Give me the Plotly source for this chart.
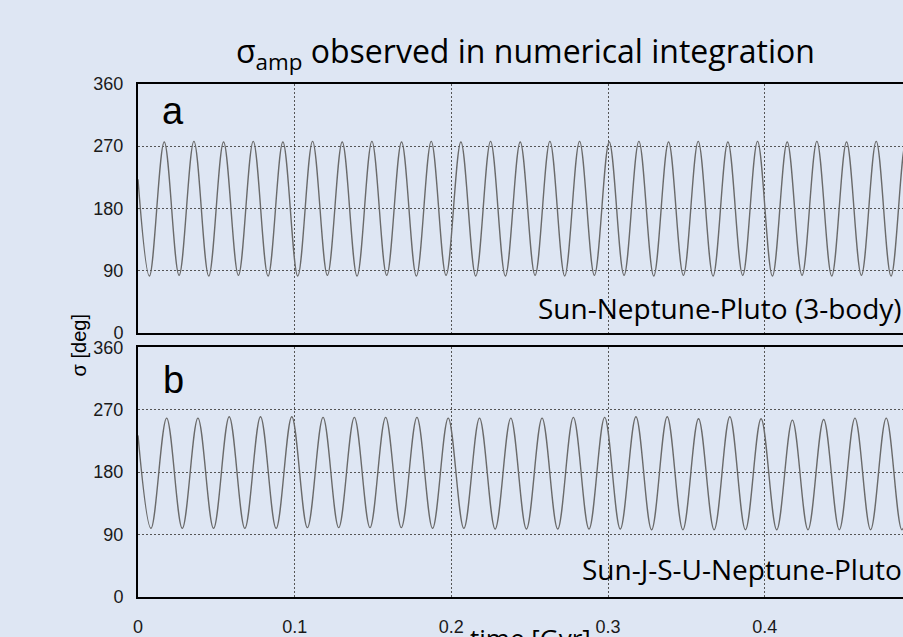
import plotly.graph_objects as go

# ---------------- data ----------------
# Panel a: Sun-Neptune-Pluto (3-body)
start_a = (0.0, 222)
trough_t_a = [0.00728, 0.02622, 0.04515, 0.06409, 0.08302, 0.10196, 0.12089, 0.13983, 0.15876,
              0.17770, 0.19663, 0.21557, 0.23450, 0.25344, 0.27237, 0.29131, 0.31024, 0.32918,
              0.34811, 0.36705, 0.38598, 0.40492, 0.42385, 0.44279, 0.46172, 0.48066, 0.49959]
trough_a = [82, 83, 82, 83, 82, 82, 83, 82, 83, 82, 83, 82, 82, 83, 82, 83, 83, 82, 83, 82,
            83, 82, 83, 82, 83, 82, 83]
peak_t_a = [0.01675, 0.03569, 0.05462, 0.07356, 0.09249, 0.11143, 0.13036, 0.14930, 0.16823,
            0.18717, 0.20610, 0.22504, 0.24397, 0.26291, 0.28184, 0.30078, 0.31971, 0.33865,
            0.35758, 0.37652, 0.39545, 0.41439, 0.43332, 0.45226, 0.47119, 0.49013]
peak_a = [276, 277, 276, 277, 276, 277, 276, 277, 276, 277, 276, 277, 276, 277, 277, 276,
          277, 276, 277, 276, 277, 276, 277, 276, 277, 276]

# Panel b: Sun-J-S-U-Neptune-Pluto
start_b = (0.0, 233)
trough_t_b = [0.00829, 0.02826, 0.04823, 0.06820, 0.08817, 0.10814, 0.12811, 0.14808, 0.16805,
              0.18802, 0.20799, 0.22796, 0.24793, 0.26790, 0.28787, 0.30784, 0.32781, 0.34778,
              0.36775, 0.38772, 0.40769, 0.42766, 0.44763, 0.46760, 0.48757]
trough_b = [99, 99, 99, 99, 99, 100, 100, 100, 100, 99, 99, 98, 98, 98, 98, 98, 97, 97, 97,
            97, 97, 97, 97, 97, 97]
peak_t_b = [0.01828, 0.03825, 0.05822, 0.07819, 0.09816, 0.11813, 0.13810, 0.15807, 0.17804,
            0.19801, 0.21798, 0.23795, 0.25792, 0.27789, 0.29786, 0.31783, 0.33780, 0.35777,
            0.37774, 0.39771, 0.41768, 0.43765, 0.45762, 0.47759, 0.49756]
peak_b = [258, 258, 260, 260, 260, 259, 259, 259, 259, 258, 258, 258, 258, 259, 259, 260,
          260, 257, 260, 257, 255, 256, 258, 258, 258]

y_ticks = [0, 90, 180, 270, 360]
x_ticks = [0, 0.1, 0.2, 0.3, 0.4]
x_tick_text = ["0", "0.1", "0.2", "0.3", "0.4"]


def merge(start, tt, tv, pt, pv):
    pts = [start] + list(zip(tt, tv)) + list(zip(pt, pv))
    pts.sort(key=lambda p: p[0])
    return [p[0] for p in pts], [p[1] for p in pts]


ta, sa = merge(start_a, trough_t_a, trough_a, peak_t_a, peak_a)
tb, sb = merge(start_b, trough_t_b, trough_b, peak_t_b, peak_b)

# ---------------- layout geometry ----------------
W, H = 903, 637
ML, MR, MT, MB = 138, 0, 84, 29
PW, PH = W - ML - MR, H - MT - MB


def px(x):
    return (x - ML) / PW


def py(y):
    return (H - MB - y) / PH


BG = "#DEE6F3"
LINE = "#6a6a6a"
TICKFONT = dict(family="Liberation Sans, Arial, sans-serif", size=18, color="#1a1a1a")
TXT = "Open Sans, sans-serif"

fig = go.Figure()
fig.add_trace(go.Scatter(x=ta, y=sa, mode="lines", xaxis="x2", yaxis="y2",
                         line=dict(color=LINE, width=1.4, shape="spline", smoothing=1.0),
                         showlegend=False, hoverinfo="skip"))
fig.add_trace(go.Scatter(x=tb, y=sb, mode="lines", xaxis="x", yaxis="y",
                         line=dict(color=LINE, width=1.4, shape="spline", smoothing=1.0),
                         showlegend=False, hoverinfo="skip"))

xr = [0, PW / 1566.7]
common_x = dict(range=xr, showline=True, linecolor="black", linewidth=2, mirror=True,
                showgrid=True, gridcolor="#555555", griddash="2px,2px", gridwidth=1,
                zeroline=False, tickvals=x_ticks, ticktext=x_tick_text, ticks="",
                tickfont=TICKFONT)
common_y = dict(range=[0, 360], showline=True, linecolor="black", linewidth=2, mirror=False,
                showgrid=True, gridcolor="#555555", griddash="2px,2px", gridwidth=1,
                zeroline=False, tickvals=y_ticks, ticks="", tickfont=TICKFONT,
                ticklabelstandoff=9)

dom_a = [py(338), 1]
dom_b = [0, py(353)]

fig.update_layout(
    width=W, height=H,
    margin=dict(l=ML, r=MR, t=MT, b=MB),
    paper_bgcolor=BG, plot_bgcolor=BG,
    xaxis=dict(common_x, anchor="y", showticklabels=True, ticklabelstandoff=12),
    yaxis=dict(common_y, domain=dom_b, anchor="x"),
    xaxis2=dict(common_x, anchor="y2", matches="x", showticklabels=False),
    yaxis2=dict(common_y, domain=dom_a, anchor="x2"),
)

ann = [
    dict(text="σ<sub>amp</sub> observed in numerical integration", x=px(525), y=py(52),
         xanchor="center", yanchor="middle", font=dict(family=TXT, size=32, color="black")),
    dict(text="a", x=px(160), y=py(112), xanchor="left", yanchor="middle",
         font=dict(family="Liberation Sans, Arial", size=38, color="black")),
    dict(text="b", x=px(161), y=py(386), xanchor="left", yanchor="middle",
         font=dict(family="Liberation Sans, Arial", size=38, color="black")),
    dict(text="Sun-Neptune-Pluto (3-body)", x=px(904), y=py(313), xanchor="right",
         yanchor="middle", font=dict(family=TXT, size=28, color="black")),
    dict(text="Sun-J-S-U-Neptune-Pluto", x=px(904), y=py(579), xanchor="right",
         yanchor="middle", font=dict(family=TXT, size=28, color="black")),
    dict(text="σ [deg]", x=px(79), y=py(351), xanchor="center", yanchor="middle",
         textangle=-90, font=dict(family="Liberation Sans, Arial", size=20, color="black")),
    dict(text="time [Gyr]", x=px(530), y=py(629), xanchor="center", yanchor="top",
         font=dict(family=TXT, size=26, color="black")),
]
for a in ann:
    a.update(xref="paper", yref="paper", showarrow=False)
fig.update_layout(annotations=ann)

fig.write_html("out.html")
